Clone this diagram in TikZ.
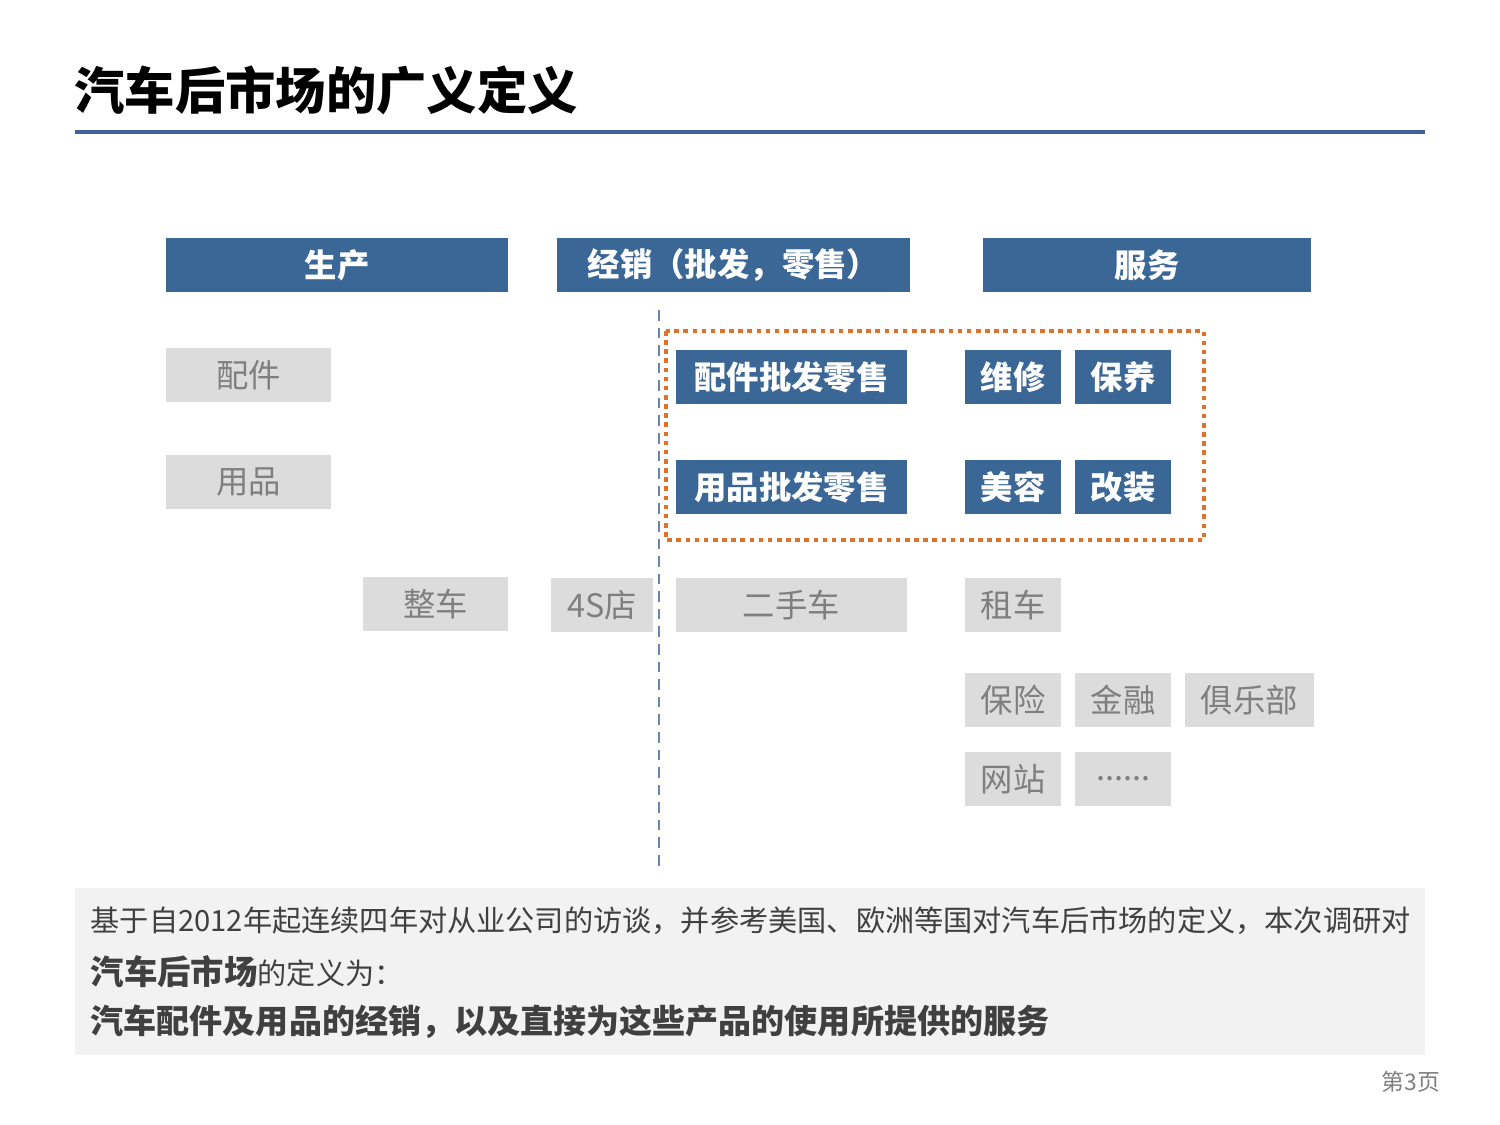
\documentclass[tikz,border=0pt]{standalone}
\usepackage{fontspec}
\setmainfont{Noto Sans CJK SC}
\definecolor{hdblue}{HTML}{3B6797}
\definecolor{ruleblue}{HTML}{4060A0}
\definecolor{boxgrey}{HTML}{DCDCDC}
\definecolor{txtgrey}{HTML}{7F7F7F}
\definecolor{notegrey}{HTML}{F2F2F2}
\definecolor{dotorange}{HTML}{E0702A}
\definecolor{sepblue}{HTML}{6A84AE}
\begin{document}
\begin{tikzpicture}[x=0.01cm,y=-0.01cm,
  hdbox/.style={fill=hdblue, text=white, inner sep=0pt, minimum height=0.54cm,
    font=\fontsize{9.2}{11}\selectfont\bfseries},
  bluebox/.style={hdbox, minimum height=0.54cm},
  greybox/.style={fill=boxgrey, text=txtgrey, inner sep=0pt, minimum height=0.54cm,
    font=\fontsize{9.2}{11}\selectfont},
  noteline/.style={anchor=west, inner sep=0pt, text=black!75,
    font=\fontsize{8.3}{10}\selectfont}]
\useasboundingbox (0,0) rectangle (1500,1125);

% Title
\node[anchor=west, inner sep=0pt, font=\fontsize{14.3}{16}\selectfont\bfseries] (title) at (74,90) {汽车后市场的广义定义};
\draw[ruleblue, line width=1.2pt] (75,132) -- (1425,132);

% Column heads
\node[hdbox, minimum width=3.42cm] (hsc) at (337,265) {生产};
\node[hdbox, minimum width=3.53cm] (hjx) at (733.5,265) {经销（批发，零售）};
\node[hdbox, minimum width=3.28cm] (hfw) at (1147,265) {服务};

% Separator and core area
\draw[sepblue, line width=0.7pt, dash pattern=on 3pt off 2pt] (659,310) -- (659,870);
\draw[dotorange, line width=1.3pt, dash pattern=on 1.3pt off 1.3pt] (666,331) rectangle (1204,540);

\node[bluebox, minimum width=2.31cm] (pjpf) at (791.5,377) {配件批发零售};
\node[bluebox, minimum width=2.31cm] (yppf) at (791.5,487) {用品批发零售};
\node[bluebox, minimum width=0.96cm] (wx) at (1013,377) {维修};
\node[bluebox, minimum width=0.96cm] (by) at (1123,377) {保养};
\node[bluebox, minimum width=0.96cm] (mr) at (1013,487) {美容};
\node[bluebox, minimum width=0.96cm] (gz) at (1123,487) {改装};

% Other segments
\node[greybox, minimum width=1.65cm] (pj) at (248.5,375) {配件};
\node[greybox, minimum width=1.65cm] (yp) at (248.5,482) {用品};
\node[greybox, minimum width=1.45cm] (zc) at (435.5,604) {整车};
\node[greybox, minimum width=1.02cm] (sd) at (602,605) {4S店};
\node[greybox, minimum width=2.31cm] (esc) at (791.5,605) {二手车};
\node[greybox, minimum width=0.96cm] (zuche) at (1013,605) {租车};
\node[greybox, minimum width=0.96cm] (bx) at (1013,700) {保险};
\node[greybox, minimum width=0.96cm] (jr) at (1123,700) {金融};
\node[greybox, minimum width=1.29cm] (jlb) at (1249.5,700) {俱乐部};
\node[greybox, minimum width=0.96cm] (wz) at (1013,779) {网站};
\node[greybox, minimum width=0.96cm] (more) at (1123,779) {......};

% Definition note
\fill[notegrey] (75,888) rectangle (1425,1055);
\node[noteline] (n1) at (90,921) {基于自2012年起连续四年对从业公司的访谈，并参考美国、欧洲等国对汽车后市场的定义，本次调研对};
\node[noteline] (n2) at (90,972) {{\fontsize{9.5}{11}\selectfont\bfseries 汽车后市场}的定义为：};
\node[noteline, font=\fontsize{9.4}{11}\selectfont\bfseries] (n3) at (90,1022) {汽车配件及用品的经销，以及直接为这些产品的使用所提供的服务};

\node[anchor=east, inner sep=0pt, text=txtgrey, font=\fontsize{6.5}{8}\selectfont] (page) at (1441,1082) {第3页};
\end{tikzpicture}
\end{document}
